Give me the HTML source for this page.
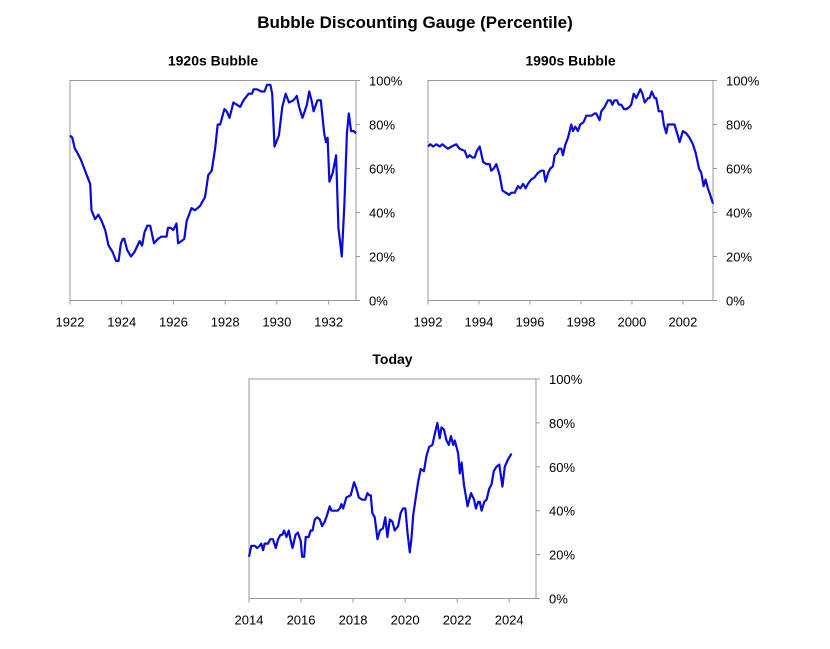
<!DOCTYPE html>
<html><head><meta charset="utf-8">
<style>
html,body{margin:0;padding:0;background:#fff;}
svg text{font-family:"Liberation Sans",sans-serif;fill:#000;}
</style></head>
<body>
<svg id="chart" width="830" height="644" viewBox="0 0 830 644" xmlns="http://www.w3.org/2000/svg">
<text x="415" y="28" text-anchor="middle" font-size="17" font-weight="bold">Bubble Discounting Gauge (Percentile)</text>
</svg>
<script>
const yTicks = [0, 20, 40, 60, 80, 100];
const years1920 = [1922.00,1922.09,1922.19,1922.29,1922.42,1922.55,1922.68,1922.78,1922.83,1922.97,1923.10,1923.23,1923.36,1923.49,1923.65,1923.78,1923.88,1923.97,1924.04,1924.10,1924.21,1924.36,1924.49,1924.69,1924.79,1924.88,1924.99,1925.10,1925.25,1925.40,1925.53,1925.62,1925.73,1925.79,1925.90,1925.99,1926.12,1926.18,1926.31,1926.42,1926.51,1926.70,1926.83,1927.03,1927.22,1927.35,1927.48,1927.61,1927.71,1927.81,1927.97,1928.06,1928.17,1928.32,1928.45,1928.58,1928.71,1928.91,1929.04,1929.10,1929.23,1929.40,1929.52,1929.62,1929.75,1929.82,1929.91,1930.08,1930.21,1930.34,1930.47,1930.64,1930.77,1930.86,1930.99,1931.16,1931.25,1931.34,1931.42,1931.57,1931.70,1931.83,1931.90,1931.96,1932.03,1932.16,1932.29,1932.38,1932.51,1932.61,1932.71,1932.78,1932.87,1932.97,1933.06];
const values1920 = [75,74,69,67,64,60,56,53,41,37,39,36,32,25,22,18,18,26,28,28,23,20,22,27,25,31,34,34,26,28,29,29,29,33,33,32,35,26,27,28,36,42,41,43,47,57,59,69,80,80,87,86,83,90,89,88,91,94,94,96,96,95,95,98,98,94,70,75,88,94,90,91,93,88,83,89,95,91,86,91,91,76,72,74,54,58,66,33,20,44,76,85,77,77,76];
const years1990 = [1992.00,1992.09,1992.20,1992.33,1992.46,1992.56,1992.78,1992.92,1993.11,1993.24,1993.44,1993.54,1993.63,1993.74,1993.83,1993.92,1994.03,1994.16,1994.29,1994.42,1994.48,1994.58,1994.68,1994.81,1994.92,1995.05,1995.18,1995.27,1995.40,1995.53,1995.62,1995.73,1995.83,1995.92,1996.05,1996.18,1996.31,1996.44,1996.54,1996.61,1996.71,1996.80,1996.90,1996.97,1997.06,1997.14,1997.23,1997.29,1997.39,1997.49,1997.62,1997.69,1997.78,1997.88,1997.97,1998.10,1998.21,1998.41,1998.54,1998.60,1998.73,1998.80,1998.93,1999.06,1999.16,1999.23,1999.32,1999.41,1999.49,1999.58,1999.69,1999.78,1999.91,1999.97,2000.07,2000.17,2000.33,2000.41,2000.50,2000.63,2000.69,2000.78,2000.89,2000.95,2001.05,2001.18,2001.25,2001.35,2001.41,2001.57,2001.67,2001.80,2001.87,2002.00,2002.13,2002.26,2002.39,2002.50,2002.63,2002.72,2002.81,2002.89,2002.98,2003.07,2003.18];
const values1990 = [70,71,70,71,70,71,69,70,71,69,68,65,66,65,65,68,70,63,62,62,59,60,62,57,50,49,48,49,49,52,51,53,51,53,55,56,58,59,59,54,58,60,61,66,67,69,69,66,71,74,80,77,79,77,80,81,84,84,85,85,82,86,88,91,91,89,91,91,89,89,87,87,88,89,94,92,96,94,90,92,92,95,92,92,86,86,80,76,80,80,80,75,72,77,76,74,71,67,60,58,52,55,51,48,44];
const yearsToday = [2014.00,2014.09,2014.22,2014.31,2014.41,2014.47,2014.54,2014.60,2014.73,2014.82,2014.92,2015.03,2015.12,2015.21,2015.28,2015.35,2015.44,2015.53,2015.59,2015.67,2015.79,2015.88,2015.99,2016.04,2016.12,2016.18,2016.29,2016.37,2016.44,2016.53,2016.62,2016.72,2016.81,2016.91,2017.00,2017.10,2017.17,2017.29,2017.40,2017.49,2017.55,2017.62,2017.74,2017.91,2018.04,2018.13,2018.22,2018.35,2018.47,2018.55,2018.62,2018.68,2018.74,2018.83,2018.94,2019.03,2019.15,2019.24,2019.32,2019.41,2019.51,2019.60,2019.73,2019.83,2019.92,2020.01,2020.09,2020.18,2020.24,2020.31,2020.41,2020.50,2020.60,2020.72,2020.82,2020.92,2021.05,2021.14,2021.24,2021.33,2021.40,2021.49,2021.59,2021.68,2021.76,2021.85,2021.91,2022.04,2022.10,2022.17,2022.26,2022.40,2022.53,2022.65,2022.72,2022.81,2022.87,2022.94,2023.04,2023.13,2023.23,2023.32,2023.41,2023.51,2023.62,2023.74,2023.83,2023.94,2024.09];
const valuesToday = [19,24,24,23,24,25,22,25,25,27,27,23,27,29,29,31,28,31,27,23,29,30,26,19,19,28,28,31,31,36,37,36,33,35,38,42,40,40,40,41,43,41,46,47,53,50,46,45,45,48,47,47,39,37,27,31,32,37,28,36,35,31,33,39,41,41,30,21,27,38,46,53,59,58,65,69,70,75,80,73,78,77,72,70,74,70,72,66,57,62,52,42,48,45,41,44,44,40,44,45,50,52,58,60,61,51,60,63,66];
const xTicks1920 = [1922,1924,1926,1928,1930,1932];
const xTicks1990 = [1992,1994,1996,1998,2000,2002];
const xTicksToday = [2014,2016,2018,2020,2022,2024];

const NS = "http://www.w3.org/2000/svg";
const svg = document.getElementById('chart');
function mk(tag, attrs, parent){ const e=document.createElementNS(NS,tag); for(const k in attrs) e.setAttribute(k,attrs[k]); parent.appendChild(e); return e; }

function panel(cfg){
  const g = mk('g',{},svg);
  
  
  const xs = v => cfg.x0 + (v - cfg.d0)/(cfg.d1 - cfg.d0)*(cfg.x1 - cfg.x0);
  const ys = v => cfg.y0 - v/100*(cfg.y0 - cfg.y1);
  const t = mk('text',{x:(cfg.x0+cfg.x1)/2, y:cfg.y1-15, 'text-anchor':'middle','font-size':14,'font-weight':'bold'},g);
  t.textContent = cfg.title;
  
  
  const box = mk('rect',{x:cfg.x0,y:cfg.y1,width:cfg.x1-cfg.x0,height:cfg.y0-cfg.y1,fill:'none',stroke:'#999','stroke-width':1},g);
  
  
  yTicks.forEach(v=>{
    const y = ys(v);
    const tk = mk('line',{x1:cfg.x1,x2:cfg.x1+4,y1:y,y2:y,stroke:'#999'},g);
    
    
    const lb = mk('text',{x:cfg.x1+13,y:y+5,'font-size':13},g);
    lb.textContent = v + '%';
    
    
  });
  cfg.xt.forEach(v=>{
    const x = xs(v);
    const tk = mk('line',{x1:x,x2:x,y1:cfg.y0,y2:cfg.y0+4,stroke:'#999'},g);
    
    
    const lb = mk('text',{x:x,y:cfg.y0+26,'text-anchor':'middle','font-size':13},g);
    lb.textContent = v;
    
    
  });
  const d = cfg.yrs.map((yr,i)=>(i?'L':'M')+xs(yr).toFixed(1)+' '+ys(cfg.vals[i]).toFixed(1)).join(' ');
  const p = mk('path',{d:d,fill:'none',stroke:'#0a0ad8','stroke-width':2.2,'stroke-linejoin':'round'},g);
  
  
}
panel({name:'panel-1920s',title:'1920s Bubble',x0:70,x1:356,y0:300.5,y1:80.5,d0:1922,d1:1933.06,xt:xTicks1920,yrs:years1920,vals:values1920});
panel({name:'panel-1990s',title:'1990s Bubble',x0:428,x1:713,y0:300.5,y1:80.5,d0:1992,d1:2003.18,xt:xTicks1990,yrs:years1990,vals:values1990});
panel({name:'panel-today',title:'Today',x0:249,x1:536,y0:598.5,y1:379,d0:2014,d1:2025.03,xt:xTicksToday,yrs:yearsToday,vals:valuesToday});
</script>
</body></html>
